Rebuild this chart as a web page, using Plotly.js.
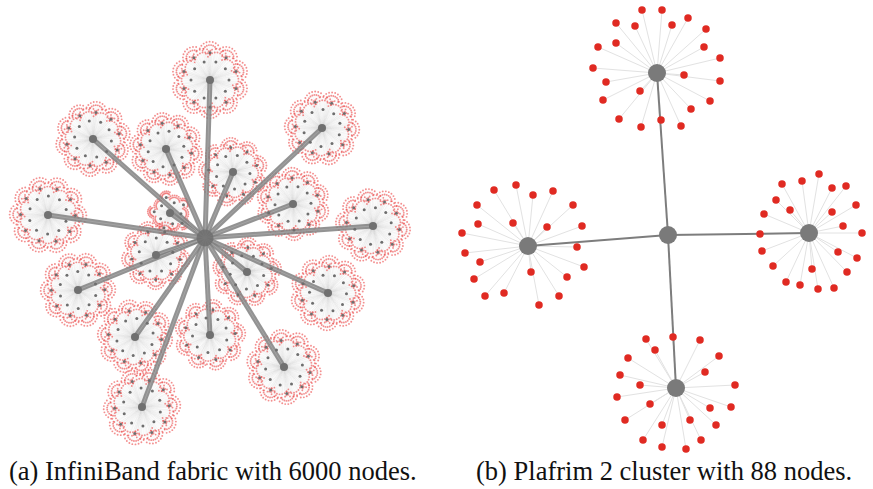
<!DOCTYPE html>
<html><head><meta charset="utf-8">
<script src="https://cdn.plot.ly/plotly-3.0.1.min.js"></script>
<style>html,body{margin:0;padding:0;background:#fff}#chart{width:873px;height:489px}</style>
</head><body><div id="chart"></div>
<script>
// ---------- (a) InfiniBand fabric: cluster hubs (pixel-space layout coordinates) ----------
const fabricCenter = [205, 238];
const clusterX = [210, 322, 93, 166, 233, 293, 48, 170, 373, 156, 247, 78, 328, 135, 210, 284, 142];
const clusterY = [80, 128, 139, 149, 172, 204, 215, 213, 226, 255, 272, 290, 293, 337, 335, 367, 407];
const clusterR = [38, 37, 37, 36, 34, 36, 38, 22, 37, 34, 34, 37, 37, 37, 35, 37, 38];
const switchesPerCluster = [20, 20, 20, 20, 18, 20, 20, 10, 20, 18, 18, 20, 20, 20, 18, 20, 20];
const leavesPerSwitch = 17;

// ---------- (b) Plafrim 2 cluster ----------
const plaCenter = [668, 235];
const hubX = [657, 528, 809, 676];
const hubY = [73, 246, 233, 388];
const topLeafX = [642, 662, 688, 706, 616, 635, 672, 598, 616, 704, 720, 593, 606, 684, 720, 640, 603, 710, 691, 619, 661, 641, 681];
const topLeafY = [10, 10, 18, 29, 23, 26, 25, 47, 43, 47, 58, 68, 82, 75, 81, 91, 100, 101, 109, 119, 120, 127, 126];
const leftLeafX = [516, 494, 533, 553, 477, 573, 478, 513, 547, 582, 462, 577, 465, 480, 584, 531, 474, 567, 485, 504, 559, 539];
const leftLeafY = [185, 190, 195, 191, 205, 205, 224, 223, 227, 226, 233, 247, 253, 262, 267, 272, 279, 277, 296, 293, 296, 305];
const rightLeafX = [782, 802, 819, 832, 846, 856, 862, 857, 847, 834, 818, 800, 786, 773, 762, 760, 764, 776, 790, 832, 843, 838, 812];
const rightLeafY = [184, 181, 174, 188, 186, 205, 233, 258, 272, 288, 289, 285, 282, 266, 251, 234, 214, 200, 210, 212, 226, 252, 269];
const bottomLeafX = [646, 673, 700, 719, 735, 731, 716, 701, 686, 662, 643, 625, 617, 620, 628, 655, 650, 705, 710, 690, 640, 662];
const bottomLeafY = [339, 337, 340, 356, 385, 407, 425, 440, 449, 447, 440, 420, 397, 375, 358, 350, 404, 372, 408, 420, 385, 425];

const captionA = "(a) InfiniBand fabric with 6000 nodes.";
const captionB = "(b) Plafrim 2 cluster with 88 nodes.";

// ---------- build traces ----------
const traces = [];
const swX = [], swY = [], lfX = [], lfY = [], thinX = [], thinY = [], hubLinkX = [], hubLinkY = [];
for (let c = 0; c < clusterX.length; c++) {
  const hx = clusterX[c], hy = clusterY[c], r = clusterR[c], S = switchesPerCluster[c];
  hubLinkX.push(fabricCenter[0], hx, null);
  hubLinkY.push(fabricCenter[1], hy, null);
  for (let s = 0; s < S; s++) {
    const th = (2 * Math.PI * s) / S + c * 0.37;
    const inner = s % 2 === 0;
    const rr = r * (inner ? 0.5 : 0.72);
    const sx = hx + rr * Math.cos(th), sy = hy + rr * Math.sin(th);
    swX.push(sx); swY.push(sy);
    thinX.push(hx, sx, null); thinY.push(hy, sy, null);
    for (let k = 0; k < leavesPerSwitch; k++) {
      const row = k % 2;
      const n = Math.floor(k / 2);
      const span = 1.3;
      const phi = th - span + (2 * span * n) / Math.ceil(leavesPerSwitch / 2) + row * 0.11;
      const rho = r * (inner ? 0.25 : 0.2) + row * r * 0.09;
      const lx = sx + rho * Math.cos(phi), ly = sy + rho * Math.sin(phi);
      lfX.push(lx); lfY.push(ly);
      thinX.push(hx, lx, null); thinY.push(hy, ly, null);
    }
  }
}
traces.push({x: thinX, y: thinY, mode: 'lines', type: 'scatter', line: {color: 'rgba(200,200,200,0.12)', width: 0.6}, hoverinfo: 'skip'});
traces.push({x: lfX, y: lfY, mode: 'markers', type: 'scatter', marker: {size: 1.9, color: 'rgba(236,70,70,0.6)'}, hoverinfo: 'skip'});
traces.push({x: hubLinkX, y: hubLinkY, mode: 'lines', type: 'scatter', line: {color: 'rgba(128,128,128,0.85)', width: 5}, hoverinfo: 'skip'});
traces.push({x: hubLinkX, y: hubLinkY, mode: 'lines', type: 'scatter', line: {color: 'rgba(165,165,165,0.9)', width: 1}, hoverinfo: 'skip'});
traces.push({x: swX, y: swY, mode: 'markers', type: 'scatter', marker: {size: 3, color: '#6e6e6e'}, hoverinfo: 'skip'});
traces.push({x: clusterX, y: clusterY, mode: 'markers', type: 'scatter', marker: {size: 8, color: '#707070'}, hoverinfo: 'skip'});
traces.push({x: [fabricCenter[0]], y: [fabricCenter[1]], mode: 'markers', type: 'scatter', marker: {size: 17, color: 'rgba(110,110,110,0.85)'}, hoverinfo: 'skip'});

// Plafrim
const leafSets = [[topLeafX, topLeafY], [leftLeafX, leftLeafY], [rightLeafX, rightLeafY], [bottomLeafX, bottomLeafY]];
const pLX = [], pLY = [], allLeafX = [], allLeafY = [];
leafSets.forEach(([lx, ly], h) => {
  lx.forEach((x, i) => {
    pLX.push(hubX[h], x, null); pLY.push(hubY[h], ly[i], null);
    allLeafX.push(x); allLeafY.push(ly[i]);
  });
});
const pHX = [], pHY = [];
hubX.forEach((x, i) => { pHX.push(plaCenter[0], x, null); pHY.push(plaCenter[1], hubY[i], null); });
traces.push({x: pLX, y: pLY, mode: 'lines', type: 'scatter', line: {color: '#e2e2e2', width: 1}, hoverinfo: 'skip'});
traces.push({x: pHX, y: pHY, mode: 'lines', type: 'scatter', line: {color: '#7d7d7d', width: 2}, hoverinfo: 'skip'});
traces.push({x: allLeafX, y: allLeafY, mode: 'markers', type: 'scatter', marker: {size: 7.5, color: '#e02a22'}, hoverinfo: 'skip'});
traces.push({x: hubX.concat([plaCenter[0]]), y: hubY.concat([plaCenter[1]]), mode: 'markers', type: 'scatter', marker: {size: 18, color: '#7a7a7a'}, hoverinfo: 'skip'});

const capFont = {family: 'Liberation Serif, serif', size: 26.5, color: '#111'};
const layout = {
  width: 873, height: 489,
  margin: {l: 0, r: 0, t: 0, b: 0},
  paper_bgcolor: '#ffffff', plot_bgcolor: '#ffffff',
  showlegend: false,
  xaxis: {range: [0, 873], visible: false, fixedrange: true},
  yaxis: {range: [489, 0], visible: false, fixedrange: true},
  annotations: [
    {x: 212.5, y: 471, xref: 'x', yref: 'y', text: captionA, showarrow: false, font: capFont},
    {x: 663.5, y: 471, xref: 'x', yref: 'y', text: captionB, showarrow: false, font: capFont}
  ]
};
Plotly.newPlot('chart', traces, layout, {displayModeBar: false, staticPlot: true});
</script></body></html>
